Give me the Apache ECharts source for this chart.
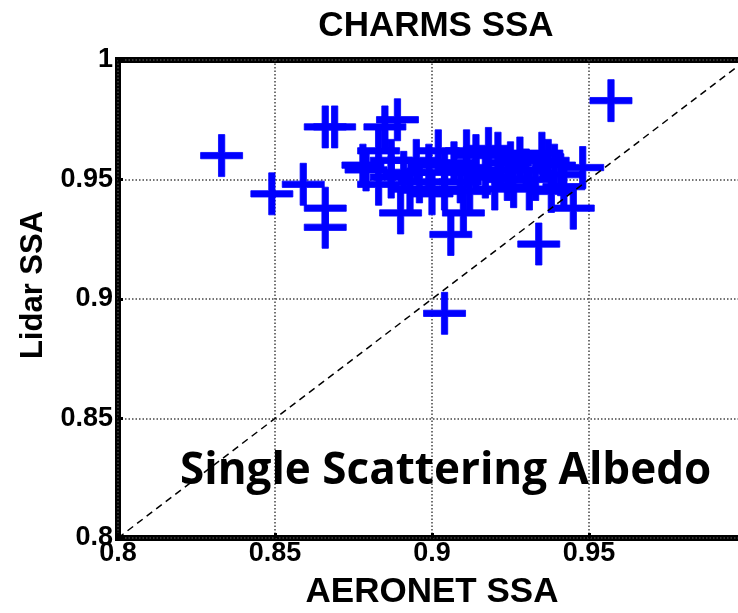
<!DOCTYPE html>
<html>
<head>
<meta charset="utf-8">
<script src="https://cdn.jsdelivr.net/npm/echarts@6/dist/echarts.min.js"></script>
<style>html,body{margin:0;padding:0;background:#fff;}#c{width:738px;height:613px;}</style>
</head>
<body>
<div id="c"></div>
<script>
var aeronetSSA = [0.833,0.849,0.859,0.866,0.866,0.866,0.869,0.885,0.889,0.883,0.879,0.887,0.887,0.890,0.906,0.910,0.934,0.945,0.948,0.957,0.904,0.900,0.902,0.895,0.914,0.918,0.921,0.928,0.935,0.937,0.926,0.938,0.930,0.917,0.914,0.891,0.896,0.899,0.904,0.907,0.909,0.911,0.922,0.924,0.933,0.941,0.942,0.904,0.912,0.920,0.931,0.893,0.878,0.883,0.939,0.925,0.911];
var lidarSSA   = [0.960,0.944,0.948,0.938,0.930,0.972,0.972,0.972,0.975,0.962,0.954,0.958,0.951,0.936,0.927,0.936,0.923,0.938,0.955,0.983,0.894,0.944,0.962,0.958,0.960,0.963,0.961,0.959,0.961,0.958,0.947,0.945,0.954,0.951,0.953,0.953,0.949,0.956,0.953,0.957,0.949,0.955,0.954,0.950,0.950,0.952,0.947,0.946,0.945,0.946,0.946,0.946,0.956,0.948,0.956,0.957,0.962];
var xTicks = [0.8, 0.85, 0.9, 0.95];
var yTicks = [0.8, 0.85, 0.9, 0.95, 1];
var oneToOne = [[0.8, 0.8], [1, 1]];

var pts = aeronetSSA.map(function (x, i) { return [x, lidarSSA[i]]; });
var plus = 'path://M42.5,0H57.5V42.5H100V57.5H57.5V100H42.5V57.5H0V42.5H42.5Z';
function fmt(v) { return String(Math.round(v * 100) / 100); }

var chart = echarts.init(document.getElementById('c'), null, {renderer: 'canvas'});
chart.setOption({
  animation: false,
  backgroundColor: '#fff',
  title: {
    text: 'CHARMS SSA', left: 431, top: 4, textAlign: 'center',
    textStyle: {fontFamily: 'Liberation Sans', fontWeight: 'bold', fontSize: 35, color: '#000'}
  },
  grid: {left: 118, top: 60, width: 628, height: 478, show: true, borderColor: '#000', borderWidth: 6,
         containLabel: false, outerBoundsMode: 'none'},
  xAxis: {
    type: 'value', min: 0.8, max: 1, interval: 0.05,
    name: 'AERONET SSA', nameLocation: 'middle', nameGap: 37,
    nameTextStyle: {fontFamily: 'Liberation Sans', fontWeight: 'bold', fontSize: 35, color: '#000'},
    axisLine: {show: false},
    axisTick: {show: true, inside: true, length: 5, lineStyle: {color: '#000', width: 3}},
    axisLabel: {
      margin: 2, fontFamily: 'Liberation Sans', fontWeight: 'bold', fontSize: 27, color: '#000',
      formatter: function (v) { return xTicks.some(function (t) { return Math.abs(t - v) < 1e-6; }) ? fmt(v) : ''; }
    },
    splitLine: {show: true, lineStyle: {color: '#444', width: 1.5, type: [1.5, 2]}}
  },
  yAxis: {
    type: 'value', min: 0.8, max: 1, interval: 0.05,
    axisLine: {show: false},
    axisTick: {show: true, inside: true, length: 5, lineStyle: {color: '#000', width: 3}},
    axisLabel: {
      margin: 5, fontFamily: 'Liberation Sans', fontWeight: 'bold', fontSize: 27, color: '#000',
      formatter: function (v) { return yTicks.some(function (t) { return Math.abs(t - v) < 1e-6; }) ? fmt(v) : ''; }
    },
    splitLine: {show: true, lineStyle: {color: '#444', width: 1.5, type: [1.5, 2]}}
  },
  series: [
    {
      type: 'line', data: oneToOne, symbol: 'none', silent: true, z: 3,
      lineStyle: {color: '#000', width: 1.5, type: [7, 5]}
    },
    {
      type: 'scatter', data: pts, symbol: plus, symbolSize: 42, z: 2,
      itemStyle: {color: '#0000ff', opacity: 1, borderColor: '#0000ff', borderWidth: 0.8}
    }
  ],
  graphic: [
    {
      type: 'text', x: 33, y: 285, rotation: Math.PI / 2, z: 10,
      style: {text: 'Lidar SSA', fill: '#000', font: 'bold 31px "Liberation Sans"', align: 'center', verticalAlign: 'middle'}
    },
    {
      type: 'text', left: 180, top: 449, z: 10,
      style: {text: 'Single Scattering Albedo', fill: '#000', font: 'bold 44px "Open Sans"'}
    }
  ]
});
</script>
</body>
</html>
